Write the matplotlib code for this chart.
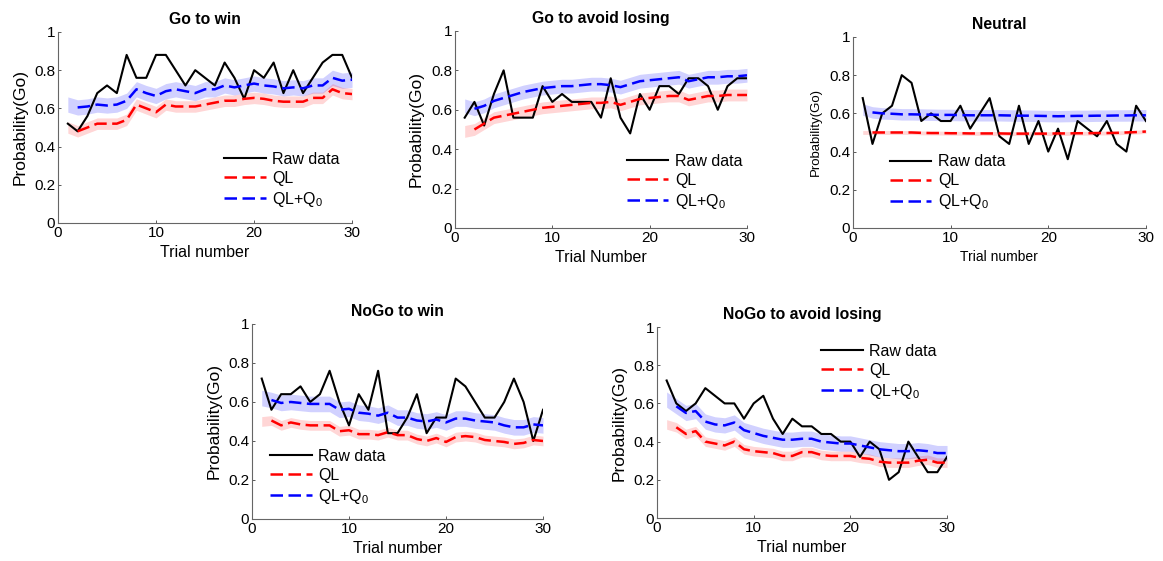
import numpy as np
import matplotlib

matplotlib.use("Agg")
import matplotlib.pyplot as plt

plt.rcParams["font.family"] = ["Liberation Sans", "DejaVu Sans"]
plt.rcParams["mathtext.fontset"] = "custom"
plt.rcParams["mathtext.rm"] = "Liberation Sans"
plt.rcParams["mathtext.it"] = "Liberation Sans"

trials = np.arange(1, 31)

# Go to win
raw_gw = [0.52, 0.48, 0.56, 0.68, 0.72, 0.68, 0.88, 0.76, 0.76, 0.88,
          0.88, 0.80, 0.72, 0.80, 0.76, 0.72, 0.84, 0.76, 0.65, 0.80,
          0.76, 0.84, 0.68, 0.80, 0.68, 0.76, 0.84, 0.88, 0.88, 0.76]
ql_gw = [0.50, 0.48, 0.50, 0.52, 0.52, 0.52, 0.54, 0.62, 0.60, 0.58,
         0.62, 0.61, 0.61, 0.61, 0.62, 0.63, 0.64, 0.64, 0.65, 0.655,
         0.65, 0.64, 0.635, 0.635, 0.635, 0.655, 0.655, 0.70, 0.68, 0.675]
q0_gw = [0.62, 0.605, 0.61, 0.62, 0.615, 0.62, 0.64, 0.70, 0.68, 0.665,
         0.69, 0.70, 0.69, 0.68, 0.70, 0.70, 0.72, 0.71, 0.72, 0.73,
         0.72, 0.715, 0.705, 0.71, 0.705, 0.72, 0.72, 0.76, 0.745, 0.75]

# Go to avoid losing
raw_gal = [0.56, 0.64, 0.52, 0.68, 0.80, 0.56, 0.56, 0.56, 0.72, 0.64,
           0.68, 0.64, 0.64, 0.64, 0.56, 0.76, 0.56, 0.48, 0.68, 0.60,
           0.72, 0.72, 0.68, 0.76, 0.76, 0.72, 0.60, 0.72, 0.76, 0.76]
ql_gal = [0.49, 0.50, 0.53, 0.56, 0.57, 0.58, 0.59, 0.60, 0.61, 0.615,
          0.62, 0.625, 0.63, 0.635, 0.635, 0.64, 0.625, 0.64, 0.655, 0.66,
          0.665, 0.67, 0.67, 0.65, 0.66, 0.67, 0.67, 0.675, 0.675, 0.675]
q0_gal = [0.62, 0.605, 0.62, 0.645, 0.66, 0.675, 0.69, 0.70, 0.71, 0.715,
          0.72, 0.72, 0.725, 0.73, 0.73, 0.725, 0.715, 0.73, 0.745, 0.75,
          0.755, 0.76, 0.765, 0.745, 0.755, 0.765, 0.765, 0.77, 0.77, 0.775]

# Neutral
raw_neu = [0.68, 0.44, 0.60, 0.64, 0.80, 0.76, 0.56, 0.60, 0.56, 0.56,
           0.64, 0.52, 0.60, 0.68, 0.48, 0.44, 0.64, 0.44, 0.56, 0.40,
           0.52, 0.36, 0.56, 0.52, 0.48, 0.56, 0.44, 0.40, 0.64, 0.56]
ql_neu = [0.50, 0.50, 0.50, 0.50, 0.50, 0.50, 0.498, 0.497, 0.497, 0.496,
          0.496, 0.495, 0.495, 0.495, 0.495, 0.494, 0.494, 0.494, 0.494, 0.494,
          0.495, 0.495, 0.496, 0.496, 0.497, 0.497, 0.498, 0.50, 0.502, 0.505]
q0_neu = [0.62, 0.605, 0.60, 0.598, 0.595, 0.595, 0.594, 0.593, 0.592, 0.592,
          0.591, 0.59, 0.59, 0.59, 0.59, 0.589, 0.588, 0.588, 0.587, 0.586,
          0.585, 0.586, 0.587, 0.587, 0.588, 0.588, 0.589, 0.589, 0.59, 0.59]

# NoGo to win
raw_ngw = [0.72, 0.56, 0.64, 0.64, 0.68, 0.60, 0.64, 0.76, 0.60, 0.48,
           0.64, 0.56, 0.76, 0.44, 0.44, 0.52, 0.64, 0.44, 0.52, 0.52,
           0.72, 0.68, 0.60, 0.52, 0.52, 0.60, 0.72, 0.60, 0.40, 0.56]
ql_ngw = [0.50, 0.505, 0.48, 0.495, 0.485, 0.48, 0.48, 0.48, 0.45, 0.455,
          0.435, 0.435, 0.43, 0.445, 0.43, 0.43, 0.41, 0.40, 0.415, 0.395,
          0.42, 0.425, 0.42, 0.405, 0.40, 0.395, 0.385, 0.39, 0.405, 0.40]
q0_ngw = [0.62, 0.61, 0.595, 0.60, 0.595, 0.59, 0.59, 0.59, 0.56, 0.565,
          0.545, 0.54, 0.53, 0.545, 0.52, 0.52, 0.505, 0.50, 0.51, 0.495,
          0.515, 0.515, 0.505, 0.50, 0.495, 0.48, 0.47, 0.47, 0.485, 0.48]

# NoGo to avoid losing
raw_ngal = [0.72, 0.60, 0.56, 0.60, 0.68, 0.64, 0.60, 0.60, 0.52, 0.60,
            0.64, 0.52, 0.44, 0.52, 0.48, 0.48, 0.44, 0.44, 0.40, 0.40,
            0.32, 0.40, 0.36, 0.20, 0.24, 0.40, 0.32, 0.24, 0.24, 0.32]
ql_ngal = [0.49, 0.475, 0.44, 0.455, 0.40, 0.39, 0.38, 0.40, 0.36, 0.35,
           0.345, 0.34, 0.325, 0.325, 0.345, 0.345, 0.33, 0.325, 0.325, 0.325,
           0.315, 0.31, 0.295, 0.29, 0.29, 0.29, 0.30, 0.305, 0.29, 0.29]
q0_ngal = [0.62, 0.585, 0.55, 0.56, 0.505, 0.49, 0.485, 0.50, 0.46, 0.445,
           0.43, 0.42, 0.41, 0.41, 0.415, 0.415, 0.40, 0.395, 0.39, 0.39,
           0.38, 0.37, 0.36, 0.355, 0.35, 0.35, 0.355, 0.35, 0.34, 0.34]

titles = ["Go to win", "Go to avoid losing", "Neutral", "NoGo to win", "NoGo to avoid losing"]
xlabels = ["Trial number", "Trial Number", "Trial number", "Trial number", "Trial number"]
raw_all = [raw_gw, raw_gal, raw_neu, raw_ngw, raw_ngal]
ql_all = [ql_gw, ql_gal, ql_neu, ql_ngw, ql_ngal]
q0_all = [q0_gw, q0_gal, q0_neu, q0_ngw, q0_ngal]
# band half-widths (QL, QL+Q0) per panel
ql_sem = [0.03, 0.03, 0.01, 0.025, 0.025]
q0_sem = [0.04, 0.035, 0.03, 0.04, 0.04]

# axes boxes in figure fraction
boxes = [
    [0.0499, 0.6025, 0.2528, 0.3405],
    [0.3912, 0.5936, 0.2511, 0.3512],
    [0.7334, 0.5936, 0.2519, 0.3405],
    [0.2167, 0.0749, 0.2502, 0.3476],
    [0.5649, 0.0766, 0.2494, 0.3405],
]
legend_anchor = [(0.565, 0.225), (0.589, 0.233), (0.126, 0.236), (0.062, 0.215), (0.566, 0.764)]

fig = plt.figure(figsize=(11.63, 5.61), dpi=100)

for i in range(5):
    ax = fig.add_axes(boxes[i])
    raw = np.array(raw_all[i])
    ql = np.array(ql_all[i])
    q0 = np.array(q0_all[i])

    ax.fill_between(trials, q0 - q0_sem[i], q0 + q0_sem[i], color="#0000ff", alpha=0.18, lw=0)
    ax.fill_between(trials, ql - ql_sem[i], ql + ql_sem[i], color="#ff0000", alpha=0.16, lw=0)
    ax.plot(trials, raw, color="black", lw=1.5, label="Raw data")
    ax.plot(trials[1:], ql[1:], color="#ff0000", lw=1.8, dashes=(5, 2.2), label="QL")
    ax.plot(trials[1:], q0[1:], color="#0000ff", lw=1.8, dashes=(5, 2.2), label="QL+Q$_0$")

    ax.set_xlim(0, 30)
    ax.set_ylim(0, 1)
    ax.set_xticks([0, 10, 20, 30])
    ax.set_yticks([0, 0.2, 0.4, 0.6, 0.8, 1])
    ax.set_yticklabels(["0", "0.2", "0.4", "0.6", "0.8", "1"])
    ax.tick_params(direction="in", length=2.5, width=0.7, labelsize=11, pad=2, colors="0.35", labelcolor="black")
    for side in ["top", "right"]:
        ax.spines[side].set_visible(False)
    for side in ["left", "bottom"]:
        ax.spines[side].set_color("0.4")
        ax.spines[side].set_linewidth(0.8)

    small = i == 2
    ax.set_title(titles[i], fontsize=11.3, fontweight="bold", pad=6)
    ax.set_xlabel(xlabels[i], fontsize=10 if small else 11.5, labelpad=4)
    ax.set_ylabel("Probability(Go)", fontsize=9.5 if small else 12.5, labelpad=5)

    ax.legend(loc="center left", bbox_to_anchor=legend_anchor[i], frameon=False, fontsize=11.5,
              borderpad=0, borderaxespad=0, handlelength=2.6, handletextpad=0.4, labelspacing=0.25)

fig.savefig("out.png", dpi=100, facecolor="white")
